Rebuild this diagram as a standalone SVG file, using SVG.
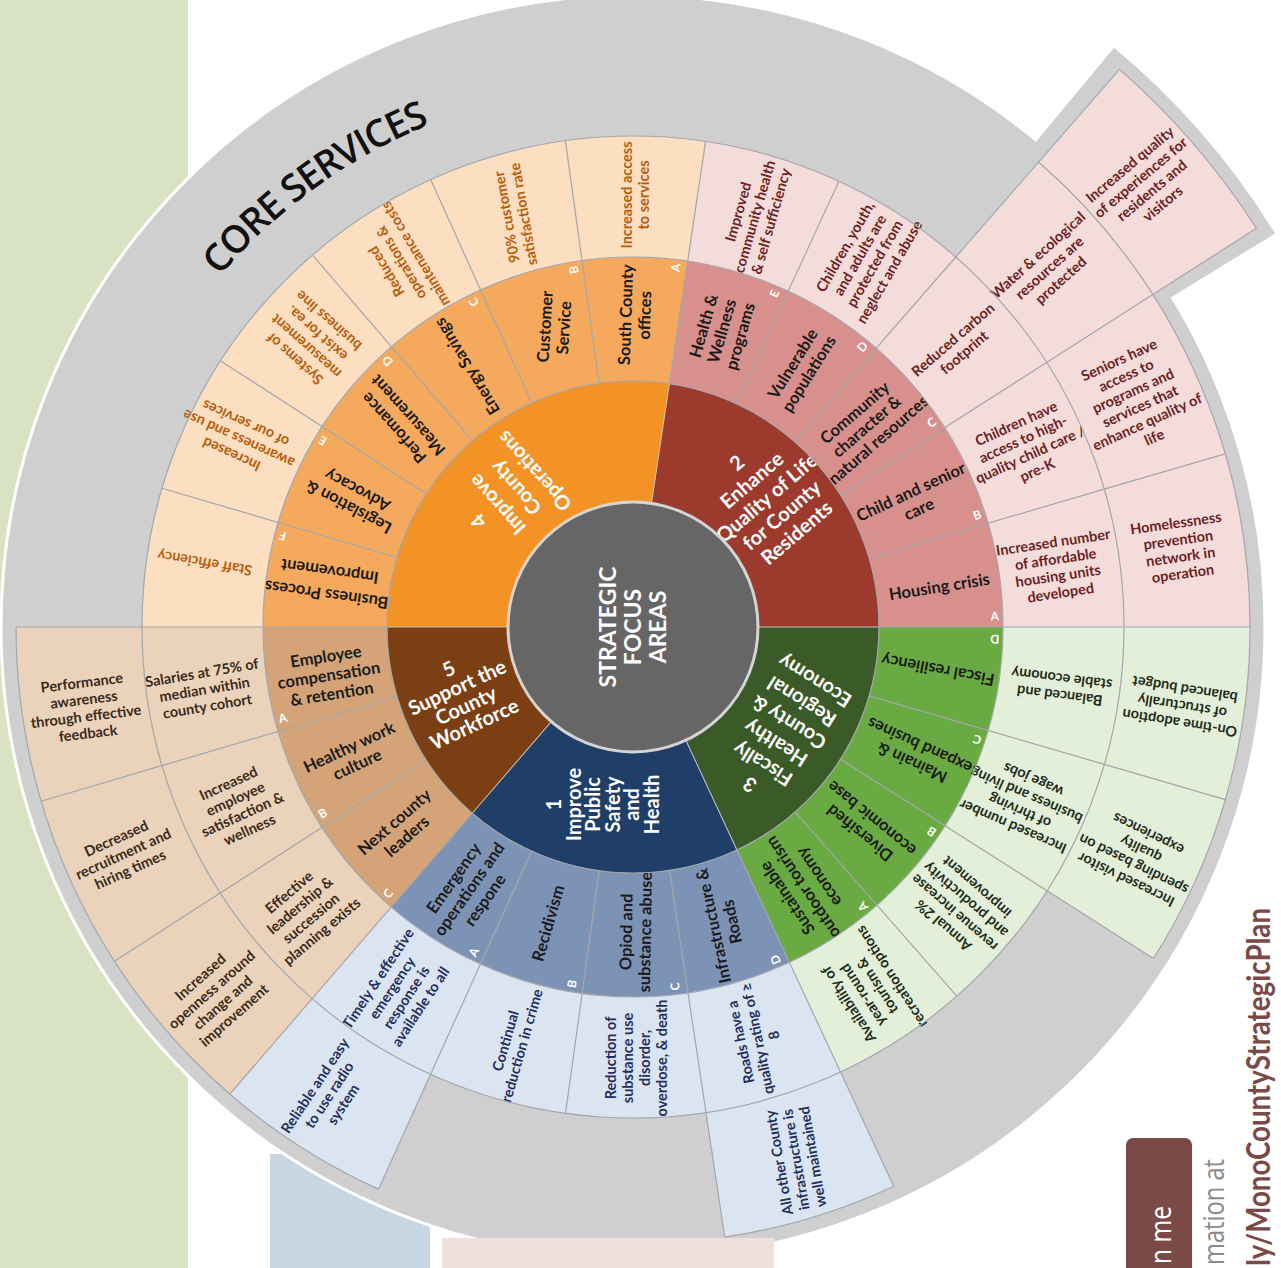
<svg xmlns="http://www.w3.org/2000/svg" width="1281" height="1268" viewBox="0 0 1281 1268">
<style>
.c{fill:none}
.r1{stroke-width:121}
.r2{stroke-width:124}
.r3{stroke-width:121}
.r4{stroke-width:126}
.r5{stroke-width:123}
.t{font-family:Lato,"Open Sans","Liberation Sans",sans-serif;font-weight:700;text-anchor:middle}
.fa{font-size:20px;fill:#fff}
.sg{font-size:16.5px;fill:#1b1b1b}
.oc{font-size:14.5px}
.lt{font-size:12px;fill:#fff}
.oo{fill:#b85d0c}
.ro{fill:#6c1f1f}
.go{fill:#1e2b1a}
.bo{fill:#1f2f5e}
.wo{fill:#3a2a1a}
.bd{stroke:#a3a7ac;stroke-width:1.2;fill:none}
.bl{stroke:#c4c4c4;stroke-width:1;fill:none}
</style>
<rect width="1281" height="1268" fill="#fff"/>
<rect x="0" y="0" width="188" height="1268" fill="#d9e2c3"/>
<rect x="270" y="1154" width="160" height="114" fill="#c7d6e3"/>
<circle cx="633" cy="627" r="632" fill="#d0cfcf" stroke="#fff" stroke-width="3"/>
<circle cx="633" cy="627" r="681.5" class="c" stroke="#d0cfcf" stroke-width="143" stroke-dasharray="223.6 6000" transform="rotate(309.7 633 627)"/>
<rect x="442" y="1238" width="332" height="30" fill="#eee0da"/>
<defs><path id="coreArc" d="M141.8 398 A542 542 0 0 1 568.8 88.8"/></defs>
<text font-family="'Open Sans','Liberation Sans',sans-serif" font-size="38" font-weight="600" letter-spacing="-1.3" fill="#111"><textPath href="#coreArc" startOffset="50%" text-anchor="middle">CORE SERVICES</textPath></text>
<g transform="translate(633 627)">
<g id="focus-4">
<circle r="185.5" class="c r1" stroke="#f39326" stroke-dasharray="318.9 5000" transform="rotate(180)"/>
<g transform="rotate(226) translate(182 0) rotate(2)"><text class="t fa"><tspan x="0" y="-30.5">4</tspan><tspan x="0" dy="25">Improve</tspan><tspan x="0" dy="25">County</tspan><tspan x="0" dy="25">Operations</tspan></text></g>
</g>
<g id="focus-2">
<circle r="185.5" class="c r1" stroke="#9c3a2d" stroke-dasharray="263.9 5000" transform="rotate(278.5)"/>
<g transform="rotate(316) translate(186 0) rotate(3.5)"><text class="t fa"><tspan x="0" y="-39">2</tspan><tspan x="0" dy="23">Enhance</tspan><tspan x="0" dy="23">Quality of Life</tspan><tspan x="0" dy="23">for County</tspan><tspan x="0" dy="23">Residents</tspan></text></g>
</g>
<g id="focus-3">
<circle r="185.5" class="c r1" stroke="#3a5a28" stroke-dasharray="210.4 5000"/>
<g transform="rotate(35.3) translate(183 0) rotate(176.7)"><text class="t fa"><tspan x="0" y="-54.3">3</tspan><tspan x="0" dy="24.5">Fiscally</tspan><tspan x="0" dy="24.5">Healthy</tspan><tspan x="0" dy="24.5">County &amp;</tspan><tspan x="0" dy="24.5">Regional</tspan><tspan x="0" dy="24.5">Economy</tspan></text></g>
</g>
<g id="focus-1">
<circle r="185.5" class="c r1" stroke="#203f68" stroke-dasharray="213 5000" transform="rotate(65)"/>
<g transform="rotate(99.6) translate(180 0) rotate(-189.6)"><text class="t fa"><tspan x="0" y="-42">1</tspan><tspan x="0" dy="19.6">Improve</tspan><tspan x="0" dy="19.6">Public</tspan><tspan x="0" dy="19.6">Safety</tspan><tspan x="0" dy="19.6">and</tspan><tspan x="0" dy="19.6">Health</tspan></text></g>
</g>
<g id="focus-5">
<circle r="185.5" class="c r1" stroke="#7b3f13" stroke-dasharray="159.3 5000" transform="rotate(130.8)"/>
<g transform="rotate(157.9) translate(185 0) rotate(-182.9)"><text class="t fa"><tspan x="0" y="-23.5">5</tspan><tspan x="0" dy="20.3">Support the</tspan><tspan x="0" dy="20.3">County</tspan><tspan x="0" dy="20.3">Workforce</tspan></text></g>
</g>
<g class="bl"><line x1="125" x2="246" transform="rotate(180)"/><line x1="125" x2="246" transform="rotate(278.5)"/><line x1="125" x2="246"/><line x1="125" x2="246" transform="rotate(65)"/><line x1="125" x2="246" transform="rotate(130.8)"/></g>
<g id="center">
<circle r="125" fill="#666" stroke="#d4d4d4" stroke-width="3"/>
<text class="t" font-size="23" fill="#fff" transform="rotate(-90)"><tspan x="0" y="-17">STRATEGIC</tspan><tspan x="0" dy="25">FOCUS</tspan><tspan x="0" dy="25">AREAS</tspan></text>
</g>

<g id="sg-4F"><circle r="308" class="c r2" stroke="#f5a95d" stroke-dasharray="88.25 5000" transform="rotate(180)"/>
<g transform="rotate(188.2) translate(308 0) rotate(-0.2)"><text class="t sg"><tspan x="0" y="-5.9">Business Process</tspan><tspan x="0" dy="23.5">Improvement</tspan></text></g>
<g transform="rotate(194.6) translate(362 0)"><text class="t lt" y="4.2">F</text></g></g>
<g id="sg-4E"><circle r="308" class="c r2" stroke="#f5a95d" stroke-dasharray="88.25 5000" transform="rotate(196.42)"/>
<g transform="rotate(204.6) translate(308 0) rotate(3.4)"><text class="t sg"><tspan x="0" y="-3.7">Legislation &amp;</tspan><tspan x="0" dy="19">Advocacy</tspan></text></g>
<g transform="rotate(211) translate(362 0)"><text class="t lt" y="4.2">E</text></g></g>
<g id="sg-4D"><circle r="308" class="c r2" stroke="#f5a95d" stroke-dasharray="88.25 5000" transform="rotate(212.83)"/>
<g transform="rotate(221.5) translate(310 0) rotate(6.5)"><text class="t sg"><tspan x="0" y="-3.7">Perfomance</tspan><tspan x="0" dy="19">Measurement</tspan></text></g>
<g transform="rotate(227.3) translate(362 0)"><text class="t lt" y="4.2">D</text></g></g>
<g id="sg-4C"><circle r="308" class="c r2" stroke="#f5a95d" stroke-dasharray="88.25 5000" transform="rotate(229.25)"/>
<g transform="rotate(237.5) translate(309 0) rotate(1)"><text class="t sg" y="5.8">Energy Savings</text></g>
<g transform="rotate(243.9) translate(362 0)"><text class="t lt" y="4.2">C</text></g></g>
<g id="sg-4B"><circle r="308" class="c r2" stroke="#f5a95d" stroke-dasharray="88.25 5000" transform="rotate(245.67)"/>
<g transform="rotate(255.3) translate(310 0) rotate(18.2)"><text class="t sg"><tspan x="0" y="-3.7">Customer</tspan><tspan x="0" dy="19">Service</tspan></text></g>
<g transform="rotate(260.6) translate(362 0)"><text class="t lt" y="4.2">B</text></g></g>
<g id="sg-4A"><circle r="308" class="c r2" stroke="#f5a95d" stroke-dasharray="88.25 5000" transform="rotate(262.08)"/>
<g transform="rotate(270.4) translate(312 0) rotate(1.6)"><text class="t sg"><tspan x="0" y="-3.7">South County</tspan><tspan x="0" dy="19">offices</tspan></text></g>
<g transform="rotate(276.8) translate(362 0)"><text class="t lt" y="4.2">A</text></g></g>

<g id="sg-2E"><circle r="308" class="c r2" stroke="#d8908c" stroke-dasharray="87.62 5000" transform="rotate(278.5)"/>
<g transform="rotate(286.7) translate(309 0) rotate(-0.7)"><text class="t sg"><tspan x="0" y="-13.2">Health &amp;</tspan><tspan x="0" dy="19">Wellness</tspan><tspan x="0" dy="19">programs</tspan></text></g>
<g transform="rotate(293) translate(362 0)"><text class="t lt" y="4.2">E</text></g></g>
<g id="sg-2D"><circle r="308" class="c r2" stroke="#d8908c" stroke-dasharray="87.62 5000" transform="rotate(294.8)"/>
<g transform="rotate(303) translate(308 0) rotate(-1)"><text class="t sg"><tspan x="0" y="-3.7">Vulnerable</tspan><tspan x="0" dy="19">populations</tspan></text></g>
<g transform="rotate(309.3) translate(362 0)"><text class="t lt" y="4.2">D</text></g></g>
<g id="sg-2C"><circle r="308" class="c r2" stroke="#d8908c" stroke-dasharray="87.62 5000" transform="rotate(311.1)"/>
<g transform="rotate(319.5) translate(308 0) rotate(-0.5)"><text class="t sg" font-size="15.5"><tspan x="0" y="-13.2">Community</tspan><tspan x="0" dy="18">character &amp;</tspan><tspan x="0" dy="18">natural resources</tspan></text></g>
<g transform="rotate(325.6) translate(362 0)"><text class="t lt" y="4.2">C</text></g></g>
<g id="sg-2B"><circle r="308" class="c r2" stroke="#d8908c" stroke-dasharray="87.62 5000" transform="rotate(327.4)"/>
<g transform="rotate(335.8) translate(309 0) rotate(-0.8)"><text class="t sg"><tspan x="0" y="-3.7">Child and senior</tspan><tspan x="0" dy="19">care</tspan></text></g>
<g transform="rotate(342) translate(362 0)"><text class="t lt" y="4.2">B</text></g></g>
<g id="sg-2A"><circle r="308" class="c r2" stroke="#d8908c" stroke-dasharray="87.62 5000" transform="rotate(343.7)"/>
<g transform="rotate(352.5) translate(309 0) rotate(-1.5)"><text class="t sg" y="5.8">Housing crisis</text></g>
<g transform="rotate(358.3) translate(362 0)"><text class="t lt" y="4.2">A</text></g></g>

<g id="sg-3D"><circle r="308" class="c r2" stroke="#6aaa42" stroke-dasharray="87.35 5000"/>
<g transform="rotate(8) translate(308 0) rotate(182.5)"><text class="t sg" y="5.8">Fiscal resiliency</text></g>
<g transform="rotate(1.9) translate(362 0) rotate(180)"><text class="t lt" y="4.2">D</text></g></g>
<g id="sg-3C"><circle r="308" class="c r2" stroke="#6aaa42" stroke-dasharray="87.35 5000" transform="rotate(16.25)"/>
<g transform="rotate(24.2) translate(310 0) rotate(180.3)"><text class="t sg"><tspan x="0" y="-3.7">Mainain &amp;</tspan><tspan x="0" dy="19">expand busines</tspan></text></g>
<g transform="rotate(18.1) translate(362 0) rotate(180)"><text class="t lt" y="4.2">C</text></g></g>
<g id="sg-3B"><circle r="308" class="c r2" stroke="#6aaa42" stroke-dasharray="87.35 5000" transform="rotate(32.5)"/>
<g transform="rotate(40.5) translate(306 0) rotate(178.5)"><text class="t sg"><tspan x="0" y="-3.7">Diversified</tspan><tspan x="0" dy="19">economic base</tspan></text></g>
<g transform="rotate(34.4) translate(362 0) rotate(180)"><text class="t lt" y="4.2">B</text></g></g>
<g id="sg-3A"><circle r="308" class="c r2" stroke="#6aaa42" stroke-dasharray="87.35 5000" transform="rotate(48.75)"/>
<g transform="rotate(56.9) translate(311 0) rotate(179.1)"><text class="t sg"><tspan x="0" y="-13.2">Sustainable</tspan><tspan x="0" dy="19">outdoor tourism</tspan><tspan x="0" dy="19">economy</tspan></text></g>
<g transform="rotate(50.6) translate(362 0) rotate(180)"><text class="t lt" y="4.2">A</text></g></g>

<g id="sg-1D"><circle r="308" class="c r2" stroke="#7d93b5" stroke-dasharray="88.43 5000" transform="rotate(65)"/>
<g transform="rotate(73.2) translate(310 0) rotate(-175.2)"><text class="t sg"><tspan x="0" y="-3.7">Infrastructure &amp;</tspan><tspan x="0" dy="19">Roads</tspan></text></g>
<g transform="rotate(66.8) translate(362 0) rotate(180)"><text class="t lt" y="4.2">D</text></g></g>
<g id="sg-1C"><circle r="308" class="c r2" stroke="#7d93b5" stroke-dasharray="88.43 5000" transform="rotate(81.45)"/>
<g transform="rotate(89.5) translate(305 0) rotate(-178.5)"><text class="t sg"><tspan x="0" y="-3.7">Opiod and</tspan><tspan x="0" dy="19">substance abuse</tspan></text></g>
<g transform="rotate(83.3) translate(362 0) rotate(180)"><text class="t lt" y="4.2">C</text></g></g>
<g id="sg-1B"><circle r="308" class="c r2" stroke="#7d93b5" stroke-dasharray="88.43 5000" transform="rotate(97.9)"/>
<g transform="rotate(106) translate(308 0) rotate(-180)"><text class="t sg" y="5.8">Recidivism</text></g>
<g transform="rotate(99.7) translate(362 0) rotate(180)"><text class="t lt" y="4.2">B</text></g></g>
<g id="sg-1A"><circle r="308" class="c r2" stroke="#7d93b5" stroke-dasharray="88.43 5000" transform="rotate(114.35)"/>
<g transform="rotate(122) translate(309 0) rotate(-177)"><text class="t sg"><tspan x="0" y="-13.2">Emergency</tspan><tspan x="0" dy="19">operations and</tspan><tspan x="0" dy="19">respone</tspan></text></g>
<g transform="rotate(116.1) translate(362 0) rotate(180)"><text class="t lt" y="4.2">A</text></g></g>

<g id="sg-5C"><circle r="308" class="c r2" stroke="#d4a478" stroke-dasharray="88.16 5000" transform="rotate(130.8)"/>
<g transform="rotate(139) translate(308 0) rotate(-180)"><text class="t sg"><tspan x="0" y="-3.7">Next county</tspan><tspan x="0" dy="19">leaders</tspan></text></g>
<g transform="rotate(132.6) translate(362 0) rotate(180)"><text class="t lt" y="4.2">C</text></g></g>
<g id="sg-5B"><circle r="308" class="c r2" stroke="#d4a478" stroke-dasharray="88.16 5000" transform="rotate(147.2)"/>
<g transform="rotate(155.3) translate(308 0) rotate(-180.3)"><text class="t sg"><tspan x="0" y="-3.7">Healthy work</tspan><tspan x="0" dy="19">culture</tspan></text></g>
<g transform="rotate(149) translate(362 0) rotate(180)"><text class="t lt" y="4.2">B</text></g></g>
<g id="sg-5A"><circle r="308" class="c r2" stroke="#d4a478" stroke-dasharray="88.16 5000" transform="rotate(163.6)"/>
<g transform="rotate(171) translate(308 0) rotate(-180)"><text class="t sg"><tspan x="0" y="-13.2">Employee</tspan><tspan x="0" dy="19">compensation</tspan><tspan x="0" dy="19">&amp; retention</tspan></text></g>
<g transform="rotate(165.4) translate(362 0) rotate(180)"><text class="t lt" y="4.2">A</text></g></g>

<g id="oc-4F"><circle r="430.5" class="c r3" stroke="#fcdec0" stroke-dasharray="123.35 5000" transform="rotate(180)"/>
<g transform="rotate(188.5) translate(433 0) rotate(1)"><text class="t oc oo" y="5.1">Staff efficiency</text></g></g>
<g id="oc-4E"><circle r="430.5" class="c r3" stroke="#fcdec0" stroke-dasharray="123.35 5000" transform="rotate(196.42)"/>
<g transform="rotate(205.5) translate(437 0) rotate(-1)"><text class="t oc oo"><tspan x="0" y="-11.9">Increased</tspan><tspan x="0" dy="17">awareness and use</tspan><tspan x="0" dy="17">of our services</tspan></text></g></g>
<g id="oc-4D"><circle r="430.5" class="c r3" stroke="#fcdec0" stroke-dasharray="123.35 5000" transform="rotate(212.83)"/>
<g transform="rotate(221.8) translate(431 0) rotate(-0.3)"><text class="t oc oo"><tspan x="0" y="-20.4">Systems of</tspan><tspan x="0" dy="17">measurement</tspan><tspan x="0" dy="17">exist for ea.</tspan><tspan x="0" dy="17">business line</tspan></text></g></g>
<g id="oc-4C"><circle r="430.5" class="c r3" stroke="#fcdec0" stroke-dasharray="123.35 5000" transform="rotate(229.25)"/>
<g transform="rotate(237.5) translate(432 0) rotate(1.5)"><text class="t oc oo"><tspan x="0" y="-11.9">Reduced</tspan><tspan x="0" dy="17">operations &amp;</tspan><tspan x="0" dy="17">maintenance costs</tspan></text></g></g>
<g id="oc-4B"><circle r="430.5" class="c r3" stroke="#fcdec0" stroke-dasharray="123.35 5000" transform="rotate(245.67)"/>
<g transform="rotate(254) translate(428 0) rotate(6)"><text class="t oc oo"><tspan x="0" y="-3.4">90% customer</tspan><tspan x="0" dy="17">satisfaction rate</tspan></text></g></g>
<g id="oc-4A"><circle r="430.5" class="c r3" stroke="#fcdec0" stroke-dasharray="123.35 5000" transform="rotate(262.08)"/>
<g transform="rotate(270.3) translate(432 0) rotate(-0.3)"><text class="t oc oo"><tspan x="0" y="-3.4">Increased access</tspan><tspan x="0" dy="17">to services</tspan></text></g></g>

<g id="oc-2E"><circle r="430.5" class="c r3" stroke="#f4dcdb" stroke-dasharray="122.47 5000" transform="rotate(278.5)"/>
<g transform="rotate(286.5) translate(428 0) rotate(-0.5)"><text class="t oc ro"><tspan x="0" y="-11.9">Improved</tspan><tspan x="0" dy="17">community health</tspan><tspan x="0" dy="17">&amp; self sufficiency</tspan></text></g></g>
<g id="oc-2D"><circle r="430.5" class="c r3" stroke="#f4dcdb" stroke-dasharray="122.47 5000" transform="rotate(294.8)"/>
<g transform="rotate(302.5) translate(436 0) rotate(-2.5)"><text class="t oc ro"><tspan x="0" y="-20.4">Children, youth,</tspan><tspan x="0" dy="17">and adults are</tspan><tspan x="0" dy="17">protected from</tspan><tspan x="0" dy="17">neglect and abuse</tspan></text></g></g>
<g id="oc-2C"><circle r="430.5" class="c r3" stroke="#f4dcdb" stroke-dasharray="122.47 5000" transform="rotate(311.1)"/>
<g transform="rotate(319.2) translate(430 0)"><text class="t oc ro"><tspan x="0" y="-3.4">Reduced carbon</tspan><tspan x="0" dy="17">footprint</tspan></text></g></g>
<g id="oc-2B"><circle r="430.5" class="c r3" stroke="#f4dcdb" stroke-dasharray="122.47 5000" transform="rotate(327.4)"/>
<g transform="rotate(335.4) translate(433 0) rotate(0.1)"><text class="t oc ro"><tspan x="0" y="-20.4">Children have</tspan><tspan x="0" dy="17">access to high-</tspan><tspan x="0" dy="17">quality child care /</tspan><tspan x="0" dy="17">pre-K</tspan></text></g></g>
<g id="oc-2A"><circle r="430.5" class="c r3" stroke="#f4dcdb" stroke-dasharray="122.47 5000" transform="rotate(343.7)"/>
<g transform="rotate(352) translate(428 0) rotate(-0.5)"><text class="t oc ro"><tspan x="0" y="-20.4">Increased number</tspan><tspan x="0" dy="17">of affordable</tspan><tspan x="0" dy="17">housing units</tspan><tspan x="0" dy="17">developed</tspan></text></g></g>

<g id="oc-3D"><circle r="430.5" class="c r3" stroke="#e3efd9" stroke-dasharray="122.1 5000"/>
<g transform="rotate(8) translate(432 0) rotate(179)"><text class="t oc go"><tspan x="0" y="-3.4">Balanced and</tspan><tspan x="0" dy="17">stable economy</tspan></text></g></g>
<g id="oc-3C"><circle r="430.5" class="c r3" stroke="#e3efd9" stroke-dasharray="122.1 5000" transform="rotate(16.25)"/>
<g transform="rotate(24.3) translate(428 0) rotate(179.2)"><text class="t oc go"><tspan x="0" y="-20.4">Increased number</tspan><tspan x="0" dy="17">of thriving</tspan><tspan x="0" dy="17">business and living</tspan><tspan x="0" dy="17">wage jobs</tspan></text></g></g>
<g id="oc-3B"><circle r="430.5" class="c r3" stroke="#e3efd9" stroke-dasharray="122.1 5000" transform="rotate(32.5)"/>
<g transform="rotate(40.5) translate(430 0) rotate(180.5)"><text class="t oc go"><tspan x="0" y="-20.4">Annual 2%</tspan><tspan x="0" dy="17">revenue increase</tspan><tspan x="0" dy="17">and productivity</tspan><tspan x="0" dy="17">improvement</tspan></text></g></g>
<g id="oc-3A"><circle r="430.5" class="c r3" stroke="#e3efd9" stroke-dasharray="122.1 5000" transform="rotate(48.75)"/>
<g transform="rotate(56.9) translate(434 0) rotate(180.1)"><text class="t oc go"><tspan x="0" y="-20.4">Availability of</tspan><tspan x="0" dy="17">year-round</tspan><tspan x="0" dy="17">tourism &amp;</tspan><tspan x="0" dy="17">recreation options</tspan></text></g></g>

<g id="oc-1D"><circle r="430.5" class="c r3" stroke="#dbe5f1" stroke-dasharray="123.6 5000" transform="rotate(65)"/>
<g transform="rotate(73.2) translate(430 0) rotate(-175.2)"><text class="t oc bo"><tspan x="0" y="-11.9">Roads have a</tspan><tspan x="0" dy="17">quality rating of ≥</tspan><tspan x="0" dy="17">8</tspan></text></g></g>
<g id="oc-1C"><circle r="430.5" class="c r3" stroke="#dbe5f1" stroke-dasharray="123.6 5000" transform="rotate(81.45)"/>
<g transform="rotate(89.5) translate(431 0) rotate(-179.5)"><text class="t oc bo"><tspan x="0" y="-20.4">Reduction of</tspan><tspan x="0" dy="17">substance use</tspan><tspan x="0" dy="17">disorder,</tspan><tspan x="0" dy="17">overdose, &amp; death</tspan></text></g></g>
<g id="oc-1B"><circle r="430.5" class="c r3" stroke="#dbe5f1" stroke-dasharray="123.6 5000" transform="rotate(97.9)"/>
<g transform="rotate(106) translate(433 0) rotate(-180)"><text class="t oc bo"><tspan x="0" y="-3.4">Continual</tspan><tspan x="0" dy="17">reduction in crime</tspan></text></g></g>
<g id="oc-1A"><circle r="430.5" class="c r3" stroke="#dbe5f1" stroke-dasharray="123.6 5000" transform="rotate(114.35)"/>
<g transform="rotate(122.6) translate(434 0) rotate(-179.1)"><text class="t oc bo"><tspan x="0" y="-20.4">Timely &amp; effective</tspan><tspan x="0" dy="17">emergency</tspan><tspan x="0" dy="17">response is</tspan><tspan x="0" dy="17">available to all</tspan></text></g></g>

<g id="oc-5C"><circle r="430.5" class="c r3" stroke="#ebd3bb" stroke-dasharray="123.22 5000" transform="rotate(130.8)"/>
<g transform="rotate(139) translate(434 0) rotate(-179)"><text class="t oc wo"><tspan x="0" y="-20.4">Effective</tspan><tspan x="0" dy="17">leadership &amp;</tspan><tspan x="0" dy="17">succession</tspan><tspan x="0" dy="17">planning exists</tspan></text></g></g>
<g id="oc-5B"><circle r="430.5" class="c r3" stroke="#ebd3bb" stroke-dasharray="123.22 5000" transform="rotate(147.2)"/>
<g transform="rotate(155.5) translate(433 0) rotate(-180)"><text class="t oc wo"><tspan x="0" y="-20.4">Increased</tspan><tspan x="0" dy="17">employee</tspan><tspan x="0" dy="17">satisfaction &amp;</tspan><tspan x="0" dy="17">wellness</tspan></text></g></g>
<g id="oc-5A"><circle r="430.5" class="c r3" stroke="#ebd3bb" stroke-dasharray="123.22 5000" transform="rotate(163.6)"/>
<g transform="rotate(171.7) translate(433 0) rotate(-181.2)"><text class="t oc wo"><tspan x="0" y="-11.9">Salaries at 75% of</tspan><tspan x="0" dy="17">median within</tspan><tspan x="0" dy="17">county cohort</tspan></text></g></g>

<g id="o2-2C"><circle r="554" class="c r4" stroke="#f4dcdb" stroke-dasharray="157.61 5000" transform="rotate(311.1)"/>
<g transform="rotate(319.2) translate(550 0) rotate(-1.2)"><text class="t oc ro"><tspan x="0" y="-11.9">Water &amp; ecological</tspan><tspan x="0" dy="17">resources are</tspan><tspan x="0" dy="17">protected</tspan></text></g></g>
<g id="o2-2B"><circle r="554" class="c r4" stroke="#f4dcdb" stroke-dasharray="157.61 5000" transform="rotate(327.4)"/>
<g transform="rotate(335.6) translate(553 0) rotate(-0.1)"><text class="t oc ro"><tspan x="0" y="-37.4">Seniors have</tspan><tspan x="0" dy="17">access to</tspan><tspan x="0" dy="17">programs and</tspan><tspan x="0" dy="17">services that</tspan><tspan x="0" dy="17">enhance quality of</tspan><tspan x="0" dy="17">life</tspan></text></g></g>
<g id="o2-2A"><circle r="554" class="c r4" stroke="#f4dcdb" stroke-dasharray="157.61 5000" transform="rotate(343.7)"/>
<g transform="rotate(351.8) translate(552 0) rotate(0.2)"><text class="t oc ro"><tspan x="0" y="-20.4">Homelessness</tspan><tspan x="0" dy="17">prevention</tspan><tspan x="0" dy="17">network in</tspan><tspan x="0" dy="17">operation</tspan></text></g></g>
<g id="o2-3D"><circle r="554" class="c r4" stroke="#e3efd9" stroke-dasharray="157.12 5000"/>
<g transform="rotate(8.2) translate(555 0) rotate(180.8)"><text class="t oc go"><tspan x="0" y="-11.9">On-time adoption</tspan><tspan x="0" dy="17">of structurally</tspan><tspan x="0" dy="17">balanced budget</tspan></text></g></g>
<g id="o2-3C"><circle r="554" class="c r4" stroke="#e3efd9" stroke-dasharray="157.12 5000" transform="rotate(16.25)"/>
<g transform="rotate(24.5) translate(554 0) rotate(181.5)"><text class="t oc go"><tspan x="0" y="-20.4">Increased visitor</tspan><tspan x="0" dy="17">spending based on</tspan><tspan x="0" dy="17">quality</tspan><tspan x="0" dy="17">experiences</tspan></text></g></g>
<g id="o2-1D"><circle r="554" class="c r4" stroke="#dbe5f1" stroke-dasharray="159.06 5000" transform="rotate(65)"/>
<g transform="rotate(73) translate(557 0) rotate(-173)"><text class="t oc bo"><tspan x="0" y="-11.9">All other County</tspan><tspan x="0" dy="17">infrastructure is</tspan><tspan x="0" dy="17">well maintained</tspan></text></g></g>
<g id="o2-1A"><circle r="554" class="c r4" stroke="#dbe5f1" stroke-dasharray="159.06 5000" transform="rotate(114.35)"/>
<g transform="rotate(123) translate(558 0) rotate(-179.5)"><text class="t oc bo"><tspan x="0" y="-11.9">Reliable and easy</tspan><tspan x="0" dy="17">to use radio</tspan><tspan x="0" dy="17">system</tspan></text></g></g>
<g id="o2-5C"><circle r="554" class="c r4" stroke="#ebd3bb" stroke-dasharray="158.57 5000" transform="rotate(130.8)"/>
<g transform="rotate(138.4) translate(556 0) rotate(-179.9)"><text class="t oc wo"><tspan x="0" y="-20.4">Increased</tspan><tspan x="0" dy="17">openness around</tspan><tspan x="0" dy="17">change and</tspan><tspan x="0" dy="17">improvement</tspan></text></g></g>
<g id="o2-5B"><circle r="554" class="c r4" stroke="#ebd3bb" stroke-dasharray="158.57 5000" transform="rotate(147.2)"/>
<g transform="rotate(156) translate(558 0) rotate(-180.5)"><text class="t oc wo"><tspan x="0" y="-11.9">Decreased</tspan><tspan x="0" dy="17">recruitment and</tspan><tspan x="0" dy="17">hiring times</tspan></text></g></g>
<g id="o2-5A"><circle r="554" class="c r4" stroke="#ebd3bb" stroke-dasharray="158.57 5000" transform="rotate(163.6)"/>
<g transform="rotate(171.6) translate(554 0) rotate(-178.6)"><text class="t oc wo"><tspan x="0" y="-20.4">Performance</tspan><tspan x="0" dy="17">awareness</tspan><tspan x="0" dy="17">through effective</tspan><tspan x="0" dy="17">feedback</tspan></text></g></g>
<g id="o3-2C"><circle r="678.5" class="c r5" stroke="#f4dcdb" stroke-dasharray="193.03 6000" transform="rotate(311.1)"/>
<g transform="rotate(319.2) translate(678 0) rotate(0.8)"><text class="t oc ro"><tspan x="0" y="-20.4">Increased quality</tspan><tspan x="0" dy="17">of experiences for</tspan><tspan x="0" dy="17">residents and</tspan><tspan x="0" dy="17">visitors</tspan></text></g></g>

<g id="connectors">
<circle r="246" class="bd"/>
<circle r="370" class="bd"/>
<circle r="491" class="bd"/>
<circle r="617" class="bd" stroke-dasharray="526.6 5000" transform="rotate(311.1)"/>
<circle r="617" class="bd" stroke-dasharray="350 5000"/>
<circle r="617" class="bd" stroke-dasharray="177.1 5000" transform="rotate(65)"/>
<circle r="617" class="bd" stroke-dasharray="707 5000" transform="rotate(114.35)"/>
<circle r="740" class="bd" stroke-dasharray="210.5 6000" transform="rotate(311.1)"/>
<g class="bd">
<line x1="246" x2="491" transform="rotate(180)"/><line x1="246" x2="491" transform="rotate(196.42)"/><line x1="246" x2="491" transform="rotate(212.83)"/><line x1="246" x2="491" transform="rotate(229.25)"/><line x1="246" x2="491" transform="rotate(245.67)"/><line x1="246" x2="491" transform="rotate(262.08)"/><line x1="246" x2="491" transform="rotate(278.5)"/>
<line x1="246" x2="491" transform="rotate(294.8)"/><line x1="246" x2="491" transform="rotate(311.1)"/><line x1="246" x2="491" transform="rotate(327.4)"/><line x1="246" x2="491" transform="rotate(343.7)"/><line x1="246" x2="491"/>
<line x1="246" x2="491" transform="rotate(16.25)"/><line x1="246" x2="491" transform="rotate(32.5)"/><line x1="246" x2="491" transform="rotate(48.75)"/><line x1="246" x2="491" transform="rotate(65)"/>
<line x1="246" x2="491" transform="rotate(81.45)"/><line x1="246" x2="491" transform="rotate(97.9)"/><line x1="246" x2="491" transform="rotate(114.35)"/><line x1="246" x2="491" transform="rotate(130.8)"/>
<line x1="246" x2="491" transform="rotate(147.2)"/><line x1="246" x2="491" transform="rotate(163.6)"/>
<line x1="491" x2="617" transform="rotate(311.1)"/><line x1="491" x2="617" transform="rotate(327.4)"/><line x1="491" x2="617" transform="rotate(343.7)"/><line x1="491" x2="617"/><line x1="491" x2="617" transform="rotate(16.25)"/><line x1="491" x2="617" transform="rotate(32.5)"/><line x1="491" x2="617" transform="rotate(65)"/><line x1="491" x2="617" transform="rotate(81.45)"/><line x1="491" x2="617" transform="rotate(114.35)"/><line x1="491" x2="617" transform="rotate(130.8)"/><line x1="491" x2="617" transform="rotate(147.2)"/><line x1="491" x2="617" transform="rotate(163.6)"/><line x1="491" x2="617" transform="rotate(180)"/>
<line x1="617" x2="740" transform="rotate(311.1)"/><line x1="617" x2="740" transform="rotate(327.4)"/>
</g>
</g>
</g>
<g id="join">
<rect x="1126" y="1138" width="66" height="160" rx="7" fill="#7a4a47"/>
<text transform="translate(1171 1206) rotate(-90)" font-family="'Open Sans','Liberation Sans',sans-serif" font-size="30" fill="#fff" text-anchor="end" textLength="58" lengthAdjust="spacingAndGlyphs">n me</text>
</g>
<text transform="translate(1224 1159) rotate(-90)" font-family="'Open Sans','Liberation Sans',sans-serif" font-size="30" fill="#8a8a8a" text-anchor="end" textLength="106" lengthAdjust="spacingAndGlyphs">mation at</text>
<text transform="translate(1270 908) rotate(-90)" font-family="Lato,'Open Sans',sans-serif" font-weight="700" font-size="32" fill="#7a4a47" text-anchor="end" textLength="358" lengthAdjust="spacingAndGlyphs">ly/MonoCountyStrategicPlan</text>
</svg>
